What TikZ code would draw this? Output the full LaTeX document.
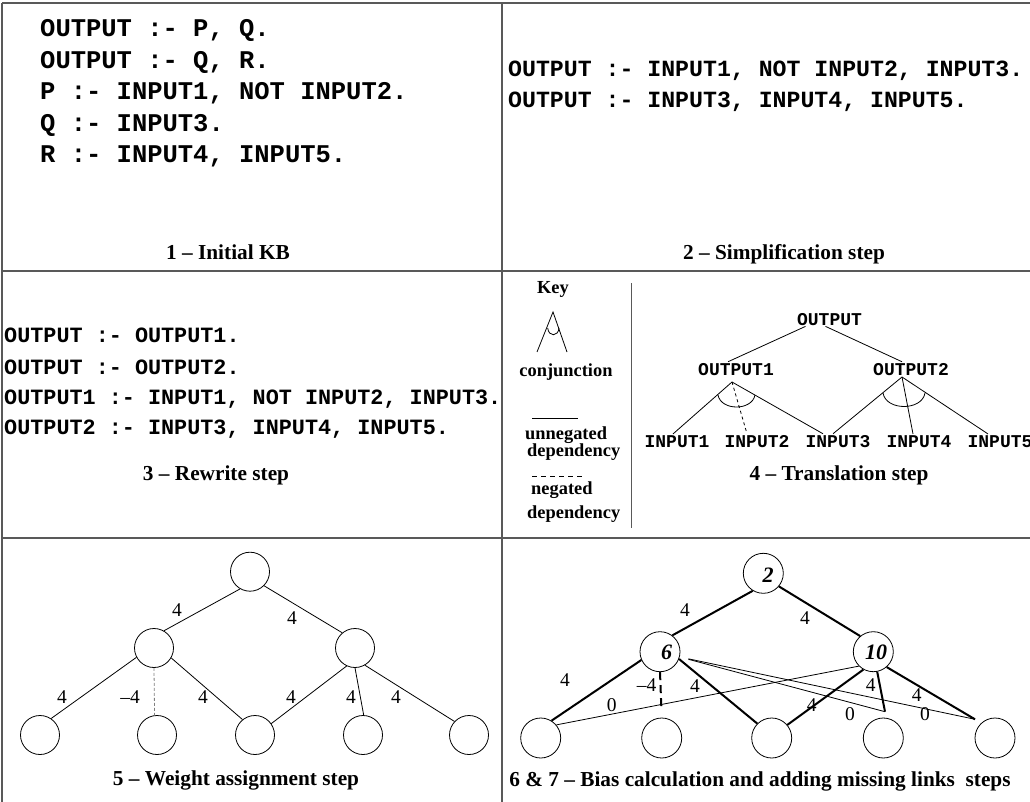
\documentclass[tikz,border=0pt]{standalone}
\usepackage{fontspec}
\setmainfont{Liberation Serif}
\setmonofont{Liberation Mono}
\begin{document}
\begin{tikzpicture}[x=1pt,y=-1pt,
  frame/.style={line width=1.3pt, draw=black!65},
  caption/.style={anchor=base, inner sep=0pt, font=\bfseries\fontsize{21.3}{22}\selectfont},
  kbrule/.style={anchor=base west, inner sep=0pt, font=\ttfamily\bfseries\fontsize{25.5}{26}\selectfont},
  simprule/.style={anchor=base west, inner sep=0pt, font=\ttfamily\bfseries\fontsize{23.2}{24}\selectfont},
  rwrule/.style={anchor=base west, inner sep=0pt, font=\ttfamily\bfseries\fontsize{21.8}{22}\selectfont},
  term/.style={anchor=base, inner sep=1pt, font=\ttfamily\bfseries\fontsize{18}{18}\selectfont},
  keytext/.style={anchor=base west, inner sep=0pt, font=\bfseries\fontsize{18.4}{19}\selectfont},
  unit/.style={circle, draw, line width=0.8pt, minimum size=39pt, inner sep=0pt},
  bias/.style={font=\bfseries\itshape\fontsize{22}{22}\selectfont, inner sep=0pt},
  wt/.style={font=\fontsize{19.5}{20}\selectfont, inner sep=0pt},
  link/.style={line width=0.8pt},
  strong/.style={line width=2pt},
]
\useasboundingbox (0,0) rectangle (1030,802);

% grid of panels
\draw[frame] (2,3) -- (1030,3);
\draw[frame] (2,3) -- (2,802);
\draw[frame] (502,3) -- (502,802);
\draw[frame] (2,271) -- (1030,271);
\draw[frame] (2,538) -- (1030,538);

% 1 - initial KB
\node[kbrule] (kb1) at (40,37) {OUTPUT :- P, Q.};
\node[kbrule] (kb2) at (40,68.5) {OUTPUT :- Q, R.};
\node[kbrule] (kb3) at (40,100) {P :- INPUT1, NOT INPUT2.};
\node[kbrule] (kb4) at (40,131.5) {Q :- INPUT3.};
\node[kbrule] (kb5) at (40,163) {R :- INPUT4, INPUT5.};
\node[caption] (cap1) at (228,259) {1 \textendash\ Initial KB};

% 2 - simplification
\node[simprule] (sp1) at (508,77) {OUTPUT :- INPUT1, NOT INPUT2, INPUT3.};
\node[simprule] (sp2) at (508,108) {OUTPUT :- INPUT3, INPUT4, INPUT5.};
\node[caption] (cap2) at (784,259) {2 \textendash\ Simplification step};

% 3 - rewrite
\node[rwrule] (rw1) at (4,342) {OUTPUT :- OUTPUT1.};
\node[rwrule] (rw2) at (4,374) {OUTPUT :- OUTPUT2.};
\node[rwrule] (rw3) at (4,404) {OUTPUT1 :- INPUT1, NOT INPUT2, INPUT3.};
\node[rwrule] (rw4) at (4,434) {OUTPUT2 :- INPUT3, INPUT4, INPUT5.};
\node[caption] (cap3) at (216,480) {3 \textendash\ Rewrite step};

% key
\draw[line width=1pt, draw=black!65] (631,283) -- (631,528);
\node[caption, font=\bfseries\fontsize{18.4}{19}\selectfont] (key) at (553,294) {Key};
\draw[link] (537,352) -- (553,312) -- (567,352);
\draw[link] (547.7,328) .. controls (548.5,337) and (558.2,337) .. (559,328);
\node[caption, font=\bfseries\fontsize{18.4}{19}\selectfont] (kconj) at (566,376) {conjunction};
\draw[link] (532,418) -- (578,418);
\node[keytext] (kun1) at (525,439) {unnegated};
\node[keytext] (kun2) at (527,456) {dependency};
\draw[link, dash pattern=on 5pt off 4pt] (532,476) -- (583,476);
\node[keytext] (kneg1) at (531,494) {negated};
\node[keytext] (kneg2) at (527,518) {dependency};

% 4 - translation
\node[term] (out) at (829.5,325) {OUTPUT};
\node[term] (out1) at (736,375) {OUTPUT1};
\node[term] (out2) at (911,375) {OUTPUT2};
\node[term] (in1) at (677,447) {INPUT1};
\node[term] (in2) at (757,447) {INPUT2};
\node[term] (in3) at (838,447) {INPUT3};
\node[term] (in4) at (919,447) {INPUT4};
\node[term] (in5) at (1000,447) {INPUT5};
\coordinate (and1) at (732,382);
\coordinate (and2) at (902,377);
\draw[link] ([xshift=-24pt]out.south) -- ([xshift=-8pt]out1.north);
\draw[link] ([xshift=-4pt]out.south) -- ([xshift=-9pt]out2.north);
\draw[link] (and1) -- ([xshift=-4pt]in1.north);
\draw[link, dashed] (and1) -- ([xshift=-10pt]in2.north);
\draw[link] (and1) -- ([xshift=-15pt]in3.north);
\draw[link] (and2) -- ([xshift=-5pt]in3.north);
\draw[link] (and2) -- ([xshift=-6pt]in4.north);
\draw[link] (and2) -- ([xshift=-12pt]in5.north);
\draw[link] (718,395) .. controls (721,411) and (752,411) .. (755,395);
\draw[link] (883,393) .. controls (886,411) and (922,411) .. (925,393);
\node[caption] (cap4) at (839,480) {4 \textendash\ Translation step};

% 5 - weights
\node[unit] (a0) at (250,571.7) {};
\node[unit] (a1) at (154,648) {};
\node[unit] (a2) at (355,648) {};
\node[unit] (x1) at (40,735) {};
\node[unit] (x2) at (157,735) {};
\node[unit] (x3) at (255,735) {};
\node[unit] (x4) at (363,735) {};
\node[unit] (x5) at (469,735) {};
\draw[link] (a0.240) -- (a1.60);
\draw[link] (a0.315) -- (a2.130);
\draw[link] (a1.208) -- (x1.56);
\draw[link, gray, dash pattern=on 3pt off 2pt] (a1.south) -- (x2.97);
\draw[link] (a1.330) -- (x3.129);
\draw[link] (a2.245) -- (x3.35);
\draw[link] (a2.270) -- (x4.88);
\draw[link] (a2.300) -- (x5.137);
\node[wt] (wa1) at (177,610) {4};
\node[wt] (wa2) at (292,618) {4};
\node[wt] (wa3) at (62,697) {4};
\node[wt] (wa4) at (130,697) {\textendash4};
\node[wt] (wa5) at (203,697) {4};
\node[wt] (wa6) at (291,697) {4};
\node[wt] (wa7) at (351,697) {4};
\node[wt] (wa8) at (396,697) {4};
\node[caption] (cap5) at (236,785) {5 \textendash\ Weight assignment step};

% 6 & 7 - biases and missing links
\node[unit, minimum size=40pt] (b0) at (763.3,573.3) {};
\node[unit, minimum size=40pt] (b1) at (660,651.7) {};
\node[unit, minimum size=40pt] (b2) at (873.3,651.7) {};
\node[unit, minimum size=40pt] (y1) at (540.7,738) {};
\node[unit, minimum size=40pt] (y2) at (661.7,738) {};
\node[unit, minimum size=40pt] (y3) at (771.7,738) {};
\node[unit, minimum size=40pt] (y4) at (883.3,738) {};
\node[unit, minimum size=40pt] (y5) at (995,738) {};
\node[bias] (bs0) at (768,575) {2};
\node[bias] (bs1) at (666.7,652.7) {6};
\node[bias] (bs2) at (876,652.7) {10};
\coordinate (j4) at (885,711.7);
\coordinate (j5) at (975,719.3);
\draw[link] (y1.40) -- (b2.225);
\draw[link, shorten <=9pt] (b1.345) -- (j4);
\draw[link, shorten <=9pt] (b1.345) -- (j5);
\draw[strong] (b0.239) -- (b1.53);
\draw[strong] (b0.320) -- (b2.130);
\draw[strong] (b1.204) -- (y1.58);
\draw[strong, dash pattern=on 8pt off 5pt, shorten >=6.7pt] (b1.south) -- (y2.north);
\draw[strong] (b1.339) -- (y3.135);
\draw[strong] (b2.241) -- (y3.40);
\draw[strong] (b2.281) -- (j4);
\draw[strong] (b2.311) -- (j5);
\node[wt] (wb1) at (685,610) {4};
\node[wt] (wb2) at (805,618.3) {4};
\node[wt] (wb3) at (565,680) {4};
\node[wt] (wb4) at (646.7,685) {\textendash4};
\node[wt] (wb5) at (695,686) {4};
\node[wt] (wb6) at (811.7,705) {4};
\node[wt] (wb7) at (870.7,685) {4};
\node[wt] (wb8) at (916.7,695) {4};
\node[wt] (wz1) at (611.7,705) {0};
\node[wt] (wz2) at (850,714) {0};
\node[wt] (wz3) at (925,714) {0};
\node[caption] (cap6) at (760,786) {6 \& 7 \textendash\ Bias calculation and adding missing links\ \ steps};
\end{tikzpicture}
\end{document}
